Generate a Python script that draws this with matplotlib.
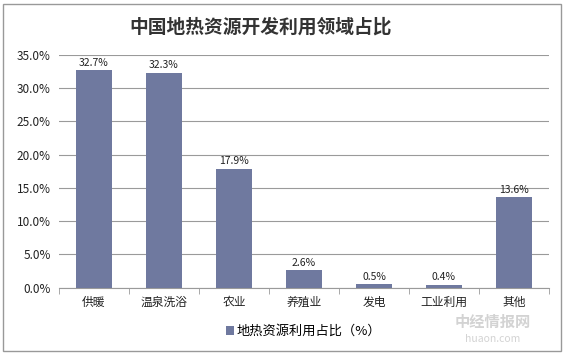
import matplotlib
matplotlib.use("Agg")
import matplotlib.pyplot as plt
from matplotlib.patches import Rectangle
from matplotlib.ticker import FuncFormatter, MultipleLocator

plt.rcParams['font.family'] = ['Noto Sans CJK SC', 'DejaVu Sans']

categories = ["供暖", "温泉洗浴", "农业", "养殖业", "发电", "工业利用", "其他"]
values = [32.7, 32.3, 17.9, 2.6, 0.5, 0.4, 13.6]
title = "中国地热资源开发利用领域占比"
legend_label = "地热资源利用占比（%）"

bar_color = "#6f799f"

fig = plt.figure(figsize=(5.73, 3.55), dpi=100)
fig.patches.append(Rectangle((0.006, 0.012), 0.973, 0.978, transform=fig.transFigure,
                             fill=False, edgecolor="#999999", linewidth=1.0))
ax = fig.add_axes([0.103, 0.19, 0.855, 0.655])

x = list(range(len(categories)))
bars = ax.bar(x, values, width=0.52, color=bar_color, zorder=3, label=legend_label)
for xi, v in zip(x, values):
    ax.text(xi, v + 0.4, f"{v:.1f}%", ha="center", va="bottom", fontsize=7.5, color="#222222")

ax.set_xlim(-0.5, len(categories) - 0.5)
ax.set_ylim(0, 35)
ax.yaxis.set_major_locator(MultipleLocator(5))
ax.yaxis.set_major_formatter(FuncFormatter(lambda v, p: f"{v:.1f}%"))
ax.grid(axis="y", color="#9a9a9a", linewidth=0.8, zorder=0)
for s in ["top", "right", "left"]:
    ax.spines[s].set_visible(False)
ax.spines["bottom"].set_color("#9a9a9a")
ax.tick_params(axis="y", length=0, labelsize=8.5, colors="#222222", pad=6)
ax.set_xticks(x)
ax.set_xticklabels(categories, fontsize=8.5, color="#222222")
ax.tick_params(axis="x", length=0, pad=6)
ax.set_xticks([i + 0.5 for i in range(-1, len(categories))], minor=True)
ax.tick_params(axis="x", which="minor", length=4, color="#9a9a9a", direction="out")

fig.text(0.455, 0.925, title, ha="center", va="center", fontsize=13.5, fontweight="bold", color="#333333")

leg = ax.legend(loc="upper center", bbox_to_anchor=(0.5, -0.11), frameon=False,
                fontsize=9.5, handlelength=0.6, handleheight=0.6, handletextpad=0.2)

fig.text(0.86, 0.092, "中经情报网", ha="center", va="center", fontsize=11, color="#c8c8c8", alpha=0.8, fontweight="bold")
fig.text(0.86, 0.045, "huaon.com", ha="center", va="center", fontsize=7.5, color="#c8c8c8", alpha=0.8)

fig.savefig("out.png", dpi=100)
